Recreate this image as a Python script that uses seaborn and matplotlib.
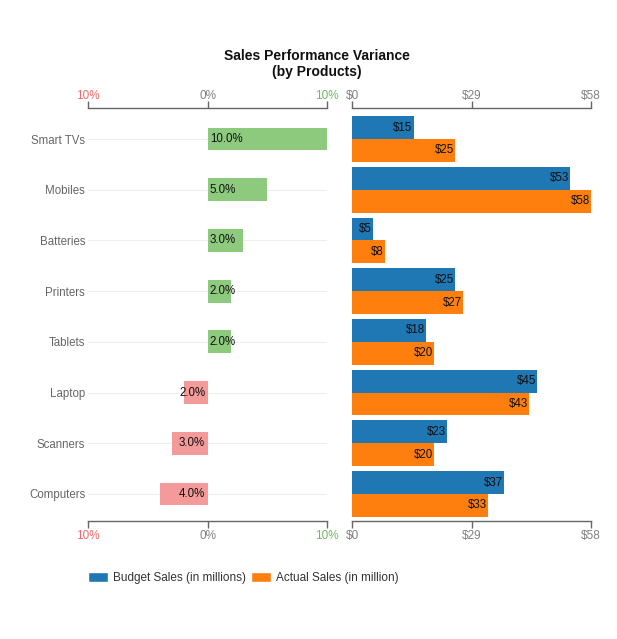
import matplotlib
matplotlib.use("Agg")
import matplotlib.pyplot as plt
import seaborn as sns
import pandas as pd
from matplotlib.patches import Patch

products = ["Smart TVs", "Mobiles", "Batteries", "Printers", "Tablets", "Laptop", "Scanners", "Computers"]
variance = [10, 5, 3, 2, 2, -2, -3, -4]
budget = [15, 53, 5, 25, 18, 45, 23, 37]
actual = [25, 58, 8, 27, 20, 43, 20, 33]
series_names = ["Budget Sales (in millions)", "Actual Sales (in million)"]
var_ticks = [-10, 0, 10]
var_ticklabels = ["10%", "0%", "10%"]
sales_ticks = [0, 29, 58]
sales_ticklabels = ["$0", "$29", "$58"]

sns.set_theme(style="white")
plt.rcParams["font.family"] = ["Liberation Sans", "DejaVu Sans"]

GREEN = "#8dca7d"
RED = "#f49a9a"
BLUE = "#1f77b4"
ORANGE = "#ff7f0e"
AXC = "#666666"
TXT = "#666666"

fig = plt.figure(figsize=(6.17, 6.39), dpi=100)
W, H = 617, 639
y_top, y_bot = 108, 521
axL = fig.add_axes([88 / W, 1 - y_bot / H, 239 / W, (y_bot - y_top) / H])
axR = fig.add_axes([352 / W, 1 - y_bot / H, 239 / W, (y_bot - y_top) / H])

dfv = pd.DataFrame({"product": products, "variance": variance,
                    "sign": ["pos" if v >= 0 else "neg" for v in variance]})
sns.barplot(data=dfv, x="variance", y="product", hue="sign", order=products,
            palette={"pos": GREEN, "neg": RED}, dodge=False, width=0.45,
            legend=False, ax=axL, orient="h", saturation=1, linewidth=0)

dfs = pd.DataFrame({"product": products * 2,
                    "value": budget + actual,
                    "series": [series_names[0]] * len(products) + [series_names[1]] * len(products)})
sns.barplot(data=dfs, x="value", y="product", hue="series", order=products,
            hue_order=series_names, palette=[BLUE, ORANGE], width=0.9,
            legend=False, ax=axR, orient="h", saturation=1, linewidth=0)

band = 50.7
lo = -(139 - y_top) / band
hi = 7 + (y_bot - 494) / band
for ax in (axL, axR):
    ax.set_ylim(hi, lo)
    ax.set_xlabel("")
    ax.set_ylabel("")
    for s in ("left", "right"):
        ax.spines[s].set_visible(False)
    for s in ("top", "bottom"):
        ax.spines[s].set_visible(True)
        ax.spines[s].set_color(AXC)
        ax.spines[s].set_linewidth(1)
    ax.tick_params(axis="x", top=True, labeltop=True, bottom=True, labelbottom=True,
                   direction="out", length=5, width=1, color=AXC, labelsize=8.5, pad=1.5,
                   labelcolor="#808080")

axL.set_xlim(-10, 10)
axL.set_xticks(var_ticks)
axL.set_xticklabels(var_ticklabels)
tick_colors = ["#f06b6b", "#808080", "#6dbb5e"]
for t, c in zip(axL.xaxis.get_major_ticks(), tick_colors):
    t.label1.set_color(c)
    t.label2.set_color(c)
axL.tick_params(axis="y", length=0, labelsize=8.3, labelcolor=TXT, pad=2)
axL.yaxis.grid(True, color="#eeeeee", linewidth=0.8)
axL.set_axisbelow(True)

axR.set_xlim(0, 58)
axR.set_xticks(sales_ticks)
axR.set_xticklabels(sales_ticklabels)
axR.tick_params(axis="y", left=False, labelleft=False)

for ax in (axL, axR):
    for t in ax.xaxis.get_major_ticks():
        t.label2.set_verticalalignment("baseline")

# labels
for cont in axL.containers:
    for bar in cont:
        w = bar.get_width()
        if w != w:
            continue
        yc = bar.get_y() + bar.get_height() / 2
        if w >= 0:
            axL.text(0.2, yc, f"{abs(w):.1f}%", ha="left", va="center", fontsize=8.3, color="#111111")
        else:
            axL.text(-0.2, yc, f"{abs(w):.1f}%", ha="right", va="center", fontsize=8.3, color="#111111")

for cont in axR.containers:
    for bar in cont:
        w = bar.get_width()
        if w != w:
            continue
        yc = bar.get_y() + bar.get_height() / 2
        axR.text(w - 0.3, yc, f"${int(round(w))}", ha="right", va="center", fontsize=8.3, color="#111111")

fig.text(317 / W, 1 - 64 / H, "Sales Performance Variance\n(by Products)", ha="center", va="center",
         fontsize=10, fontweight="bold", color="#111111", linespacing=1.15)

handles = [Patch(facecolor=BLUE, label=series_names[0]), Patch(facecolor=ORANGE, label=series_names[1])]
fig.legend(handles=handles, loc="center left", bbox_to_anchor=(88 / W, 1 - 578 / H), ncol=2,
           frameon=False, fontsize=8.5, handlelength=1.7, handleheight=1.0, handletextpad=0.42,
           columnspacing=0.42, borderpad=0, borderaxespad=0, labelcolor="#333333")

fig.savefig("out.png", dpi=100)
